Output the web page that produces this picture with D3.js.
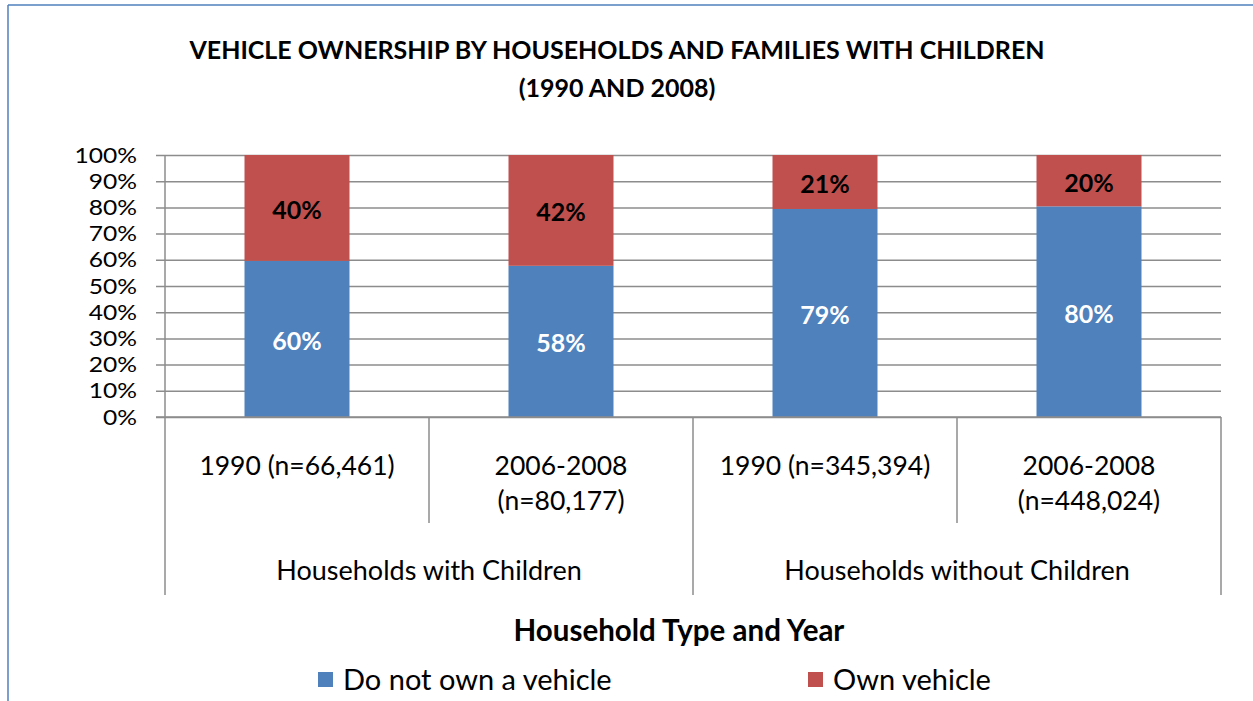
<!DOCTYPE html>
<html>
<head>
<meta charset="utf-8">
<script src="https://cdn.jsdelivr.net/npm/d3@7"></script>
<style>
  body { margin: 0; background: #fff; }
  svg { display: block; font-family: Lato, "Open Sans", sans-serif; }
</style>
</head>
<body>
<svg id="chart"></svg>
<script>
/* data */
var categories = ["1990 (n=66,461)", "2006-2008 (n=80,177)", "1990 (n=345,394)", "2006-2008 (n=448,024)"];
var catLines = [["1990 (n=66,461)"], ["2006-2008", "(n=80,177)"], ["1990 (n=345,394)"], ["2006-2008", "(n=448,024)"]];
var groups = ["Households with Children", "Households without Children"];
var noVehicle = [59.6, 57.7, 79.4, 80.4];
var ownVehicle = [40.4, 42.3, 20.6, 19.6];
var seriesNames = ["Do not own a vehicle", "Own vehicle"];
var yTicks = [0, 10, 20, 30, 40, 50, 60, 70, 80, 90, 100];

var colors = ["#4F81BD", "#C0504D"];
var width = 1253, height = 701;
var plot = { left: 165, right: 1221, top: 155, bottom: 417 };

var svg = d3.select("#chart").attr("width", width).attr("height", height);

// outer frame (only left and top edges visible)
svg.append("line").attr("x1", 8).attr("y1", 5).attr("x2", width).attr("y2", 5)
   .attr("stroke", "#4F81BD").attr("stroke-width", 1.5);
svg.append("line").attr("x1", 8).attr("y1", 5).attr("x2", 8).attr("y2", height)
   .attr("stroke", "#4F81BD").attr("stroke-width", 1.5);

// title
svg.append("text").attr("x", 617).attr("y", 59).attr("text-anchor", "middle")
   .style("font-weight", "bold").style("font-size", "25px")
   .text("VEHICLE OWNERSHIP BY HOUSEHOLDS AND FAMILIES WITH CHILDREN");
svg.append("text").attr("x", 617).attr("y", 97).attr("text-anchor", "middle")
   .style("font-weight", "bold").style("font-size", "25px")
   .text("(1990 AND 2008)");

var xScale = d3.scaleBand().domain(categories).range([plot.left, plot.right]).padding(0);
var yScale = d3.scaleLinear().domain([0, 100]).range([plot.bottom, plot.top]);
var barW = xScale.bandwidth() * 105 / 264;

// y axis with gridlines
var yAxis = svg.append("g").attr("transform", "translate(156,0)")
   .call(d3.axisLeft(yScale).tickValues(yTicks).tickSize(-(plot.right - 156))
         .tickPadding(19).tickFormat(d => d + "%"));
yAxis.select(".domain").remove();
yAxis.selectAll("line").attr("stroke", "#8c8c8c").attr("stroke-width", 1.5);
yAxis.selectAll("text").style("font-size", "22px").style("font-family", "Lato, sans-serif")
     .attr("fill", "#000").attr("transform", "scale(1.12,1)")
     .attr("x", -19 / 1.12);

// bars
var stacked = categories.map((c, i) => ({ cat: c, vals: [noVehicle[i], ownVehicle[i]] }));
stacked.forEach(function(d){
    var base = 0;
    d.vals.forEach(function(v, k){
        var y0 = yScale(base), y1 = yScale(base + v);
        var cx = xScale(d.cat) + xScale.bandwidth() / 2;
        svg.append("rect")
           .attr("x", cx - barW / 2).attr("y", y1)
           .attr("width", barW).attr("height", y0 - y1)
           .attr("fill", colors[k]);
        svg.append("text")
           .attr("x", cx).attr("y", (y0 + y1) / 2 + 1)
           .attr("text-anchor", "middle").attr("dominant-baseline", "central")
           .style("font-weight", "bold").style("font-size", "25px")
           .attr("fill", k == 0 ? "#fff" : "#000")
           .text(Math.round(v) + "%");
        base += v;
    });
});

// axis lines and category separators
svg.append("line").attr("x1", 156).attr("x2", plot.right).attr("y1", plot.bottom).attr("y2", plot.bottom)
   .attr("stroke", "#8c8c8c").attr("stroke-width", 1.5);
categories.forEach(function(c, i){
    var x = xScale(c);
    svg.append("line").attr("x1", x).attr("x2", x)
       .attr("y1", i == 0 ? plot.top : plot.bottom).attr("y2", i % 2 == 0 ? 595 : 523)
       .attr("stroke", "#8c8c8c").attr("stroke-width", 1.5);
});
svg.append("line").attr("x1", plot.right).attr("x2", plot.right).attr("y1", plot.bottom).attr("y2", 595)
   .attr("stroke", "#8c8c8c").attr("stroke-width", 1.5);

// category labels
categories.forEach(function(c, i){
    var cx = xScale(c) + xScale.bandwidth() / 2;
    catLines[i].forEach(function(line, j){
        svg.append("text").attr("x", cx).attr("y", 475 + j * 35)
           .attr("text-anchor", "middle").style("font-size", "26.5px")
           .text(line);
    });
});
groups.forEach(function(g, i){
    var cx = xScale(categories[i * 2 + 1]);
    svg.append("text").attr("x", cx).attr("y", 580)
       .attr("text-anchor", "middle").style("font-size", "27px")
       .text(g);
});

// x axis title
svg.append("text").attr("x", 679).attr("y", 641).attr("text-anchor", "middle")
   .style("font-weight", "bold").style("font-size", "29.5px")
   .text("Household Type and Year");

// legend
var legendX = [318, 808];
seriesNames.forEach(function(s, i){
    svg.append("rect").attr("x", legendX[i]).attr("y", 672).attr("width", 15).attr("height", 15)
       .attr("fill", colors[i]);
    svg.append("text").attr("x", legendX[i] + 25).attr("y", 690)
       .style("font-size", "29px").text(s);
});
</script>
</body>
</html>
